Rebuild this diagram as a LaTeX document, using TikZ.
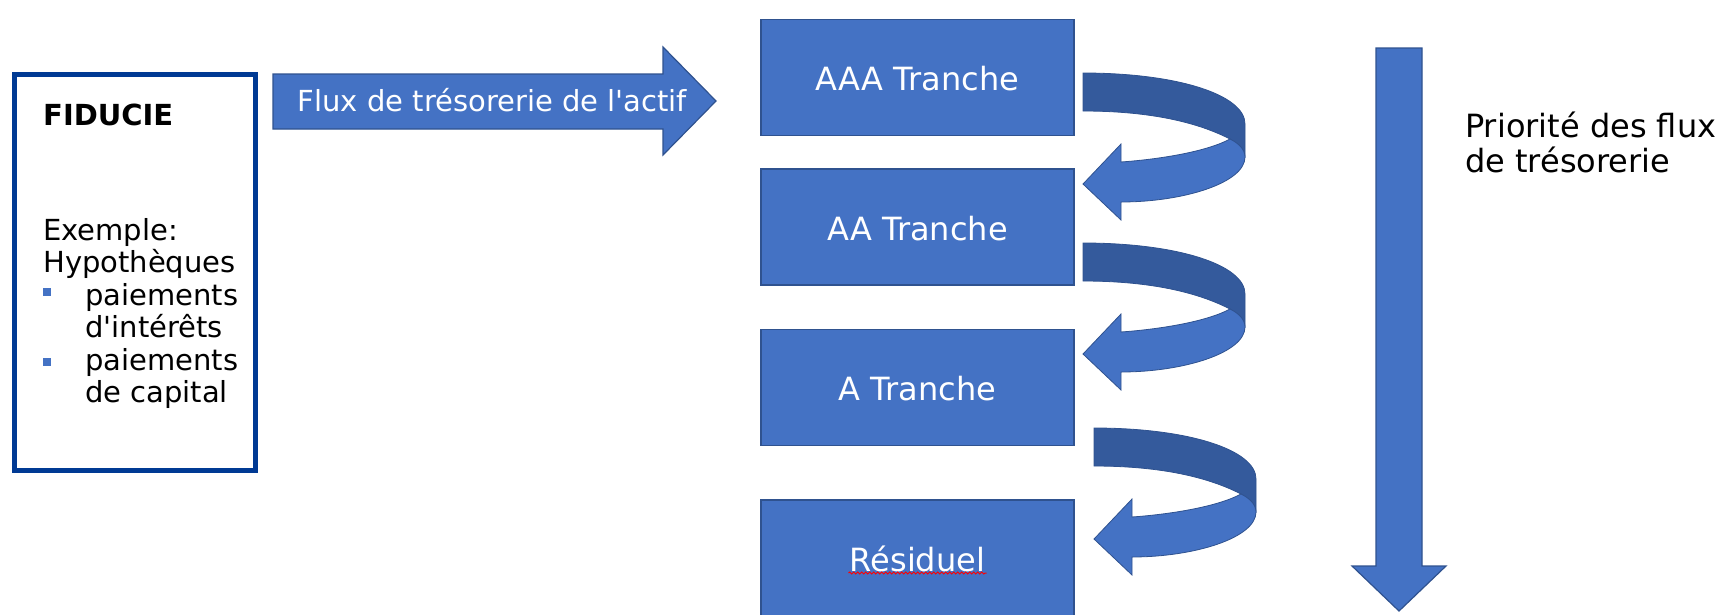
\documentclass[tikz,border=0pt]{standalone}
\usepackage{fontspec}
\setmainfont{DejaVu Sans}
\usetikzlibrary{decorations.pathmorphing}
\definecolor{boxfill}{RGB}{68,114,196}
\definecolor{boxline}{RGB}{47,82,143}
\definecolor{bandcol}{RGB}{52,90,156}
\definecolor{fidline}{RGB}{0,58,148}
\begin{document}
\begin{tikzpicture}[x=1pt,y=-1pt,
  tranche/.style={draw=boxline, line width=1.5pt, fill=boxfill, minimum width=313pt, minimum height=116pt,
    inner sep=0pt, text=white, text height=26pt, text depth=0pt, font=\fontsize{32}{38}\selectfont},
  blockarrow/.style={draw=boxline, line width=1.2pt, fill=boxfill, line join=miter},
  fidtext/.style={anchor=base west, inner sep=0pt, font=\fontsize{29}{33}\selectfont},
  righttext/.style={anchor=base west, inner sep=0pt, font=\fontsize{32}{36}\selectfont},
  bulletsq/.style={fill=boxfill, minimum size=8pt, inner sep=0pt},
  pics/curvarrow/.style={code={
    \filldraw[fill=bandcol, draw=boxline, line width=0.8pt]
      (0,0) .. controls (95,0) and (162,22) .. (162,51) -- (162,84) -- (147,66)
      .. controls (110,47) and (60,38) .. (0,38) -- cycle;
    \filldraw[fill=boxfill, draw=boxline, line width=0.8pt]
      (38,89) .. controls (80,86) and (125,78) .. (147,66)
      .. controls (155,70) and (162,76) .. (162,84)
      .. controls (162,110) and (100,129) .. (38,129)
      -- (38,147) -- (0,111) -- (38,71) -- cycle;
  }}
]
\useasboundingbox (0,0) rectangle (1731,614);
\clip (0,0) rectangle (1731,614);

% FIDUCIE box
\node[draw=fidline, line width=5pt, minimum width=241pt, minimum height=396pt, inner sep=0pt] (fid) at (135,272.5) {};
\node[fidtext, font=\fontsize{29}{33}\selectfont\bfseries] (fidtitle) at (43,125) {FIDUCIE};
\node[fidtext] (ex1) at (43,240) {Exemple:};
\node[fidtext] (ex2) at (43,272.5) {Hypothèques};
\node[bulletsq] (b1) at (47,292) {};
\node[fidtext] (ex3) at (85,305) {paiements};
\node[fidtext] (ex4) at (85,337.5) {d\textquotesingle intérêts};
\node[bulletsq] (b2) at (47,362) {};
\node[fidtext] (ex5) at (85,370) {paiements};
\node[fidtext] (ex6) at (85,402.5) {de capital};

% Flux arrow
\filldraw[blockarrow] (273,74) -- (663,74) -- (663,47) -- (716,101) -- (663,155) -- (663,129) -- (273,129) -- cycle;
\node[anchor=base, inner sep=0pt, text=white, font=\fontsize{29}{33}\selectfont] (flux) at (492.5,111) {Flux de trésorerie de l\textquotesingle actif};

% Tranches
\node[tranche] (aaa) at (917.5,77.5) {AAA Tranche};
\node[tranche] (aa) at (917.5,227) {AA Tranche};
\node[tranche] (a) at (917.5,387.5) {A Tranche};
\node[tranche] (res) at (917.5,558) {Résiduel};
\draw[red, line width=1pt, decorate, decoration={snake, amplitude=1pt, segment length=4pt}]
  ([xshift=-69pt,yshift=-15pt]res.center) -- ([xshift=69pt,yshift=-15pt]res.center);

% Curved arrows
\pic at (1083,73) {curvarrow};
\pic at (1083,243) {curvarrow};
\pic at (1094,428) {curvarrow};

% Priority arrow
\filldraw[blockarrow] (1376,48) -- (1422,48) -- (1422,566) -- (1446,566) -- (1399,611) -- (1352,566) -- (1376,566) -- cycle;
\node[righttext] (prio1) at (1465,137) {Priorité des flux};
\node[righttext] (prio2) at (1465,172) {de trésorerie};
\end{tikzpicture}
\end{document}
